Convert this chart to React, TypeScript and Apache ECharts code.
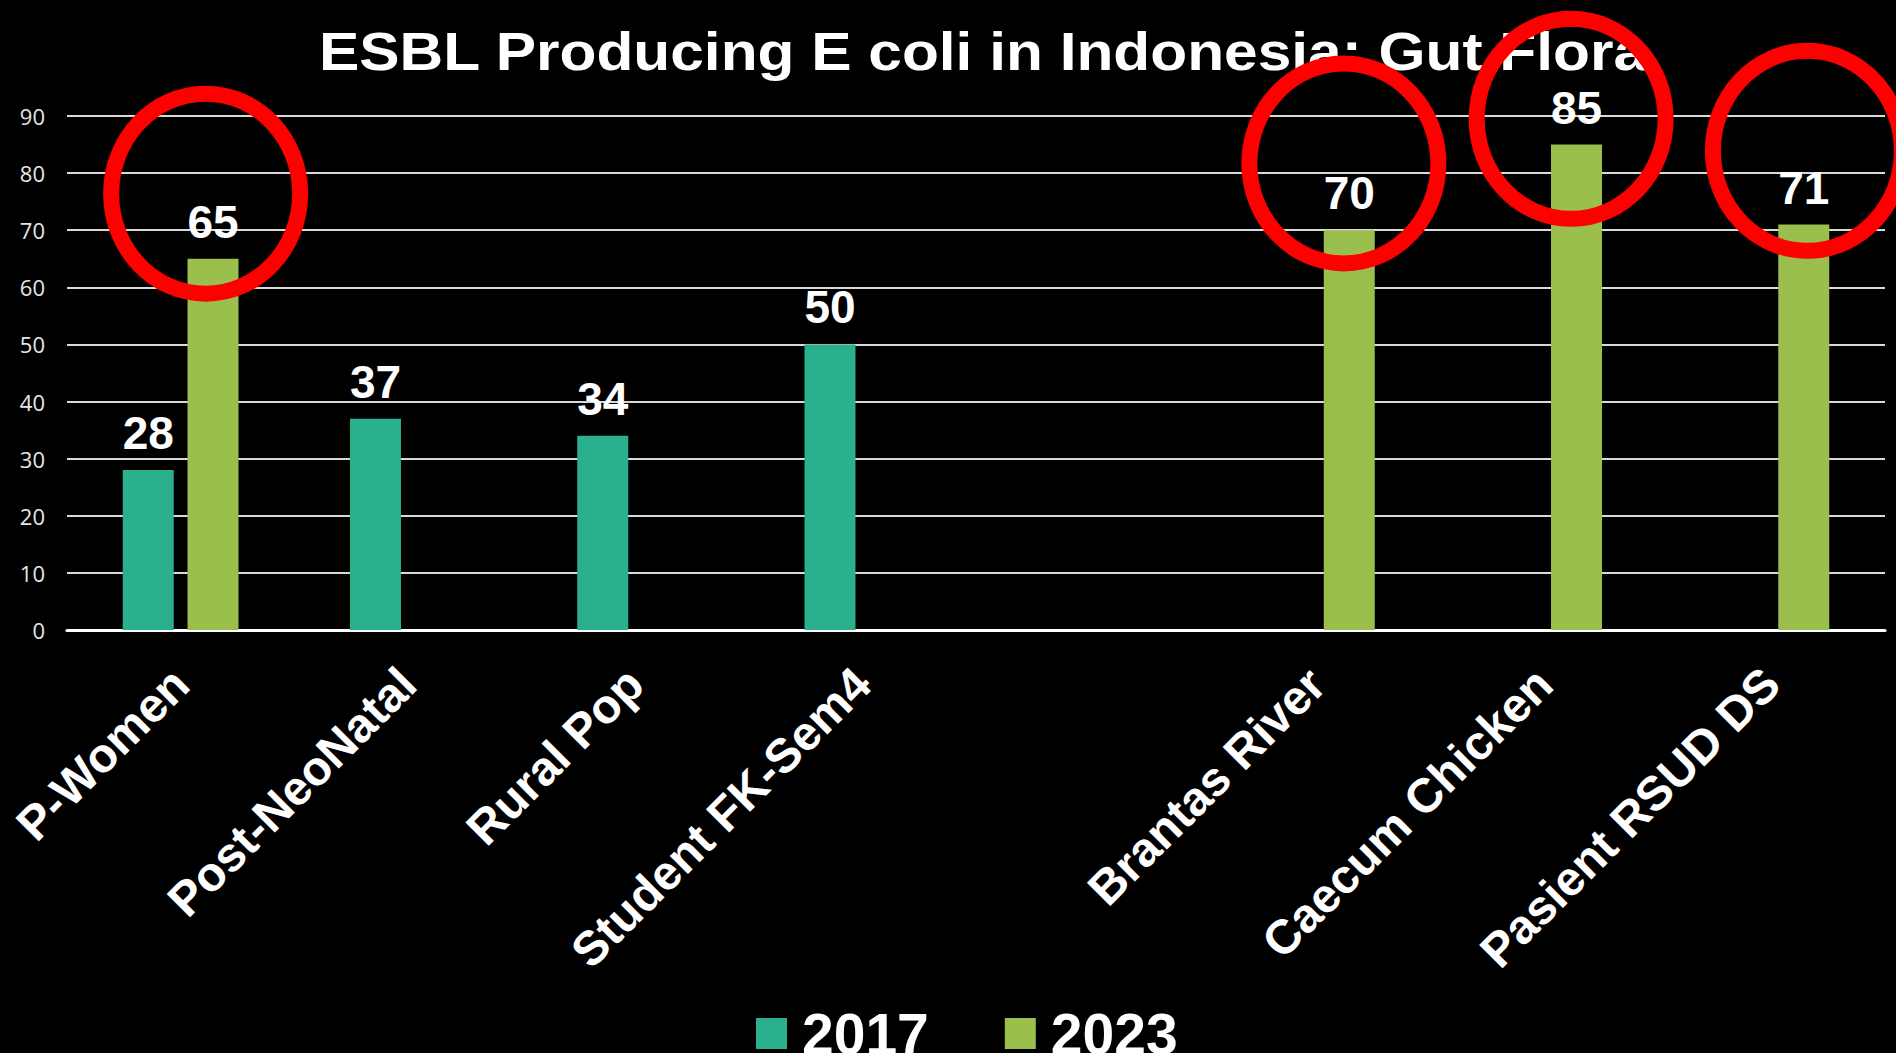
import React, { useEffect, useRef } from "react";
import * as echarts from "echarts";

const chartTitle = "ESBL Producing E coli in Indonesia: Gut Flora";
const categories = [
  "P-Women",
  "Post-NeoNatal",
  "Rural Pop",
  "Student FK-Sem4",
  "",
  "Brantas River",
  "Caecum Chicken",
  "Pasient RSUD DS",
];
const seriesNames = ["2017", "2023"];
const values2017 = [28, 37, 34, 50, null, null, null, null];
const values2023 = [65, null, null, null, null, 70, 85, 71];
const yTicks = { min: 0, max: 90, interval: 10 };

// red highlight rings: anchored at [category, value], shifted in px from category centre
const ringCategories = ["P-Women", "Brantas River", "Caecum Chicken", "Pasient RSUD DS"];
const ringValues = [76.4, 81.7, 89.5, 83.9];
const ringShift = [25, 27, 27, 36];

const COLORS = ["#2AB08D", "#9BBF4C"];
const BOLD = "'Liberation Sans', Arial, Helvetica, sans-serif";

export default function App() {
  const ref = useRef<HTMLDivElement>(null);

  useEffect(() => {
    if (!ref.current) return;
    const chart = echarts.init(ref.current, null, { renderer: "svg" });
    const labelStyle = {
      show: true,
      position: "top",
      distance: 14,
      color: "#ffffff",
      fontFamily: BOLD,
      fontWeight: "bold",
      fontSize: 46,
    };
    chart.setOption({
      animation: false,
      backgroundColor: "#000000",
      grid: { left: 67, right: 11, top: 116, bottom: 423, containLabel: false },
      legend: {
        data: seriesNames,
        left: 756,
        top: 1005,
        padding: 0,
        itemWidth: 31,
        itemHeight: 31,
        itemGap: 76,
        icon: "rect",
        textStyle: {
          color: "#ffffff",
          fontFamily: BOLD,
          fontWeight: "bold",
          fontSize: 57,
          padding: [0, 0, 0, 10],
        },
      },
      xAxis: {
        type: "category",
        data: categories,
        axisLine: { show: true, lineStyle: { color: "#ffffff", width: 3 } },
        axisTick: { show: false },
        axisLabel: {
          interval: 0,
          rotate: 45,
          margin: 46,
          color: "#ffffff",
          fontFamily: BOLD,
          fontWeight: "bold",
          fontSize: 48,
        },
      },
      yAxis: {
        type: "value",
        min: yTicks.min,
        max: yTicks.max,
        interval: yTicks.interval,
        axisLine: { show: false },
        axisTick: { show: false },
        splitLine: { lineStyle: { color: "#d9d9d9", width: 2 } },
        axisLabel: {
          margin: 22,
          color: "#e6e6e6",
          fontFamily: "'Open Sans', 'Noto Sans', sans-serif",
          fontSize: 22,
        },
      },
      series: [
        {
          name: seriesNames[0],
          type: "bar",
          data: values2017,
          barWidth: 51,
          barGap: "27%",
          itemStyle: { color: COLORS[0] },
          label: labelStyle,
        },
        {
          name: seriesNames[1],
          type: "bar",
          data: values2023,
          barWidth: 51,
          barGap: "27%",
          itemStyle: { color: COLORS[1] },
          label: labelStyle,
        },
      ],
    });

    const rings = ringCategories.map((cat, i) => {
      const p = chart.convertToPixel({ xAxisIndex: 0, yAxisIndex: 0 }, [cat, ringValues[i]]) as number[];
      return {
        type: "ellipse",
        z: 100,
        shape: { cx: p[0] + ringShift[i], cy: p[1], rx: 94.5, ry: 100 },
        style: { fill: "none", stroke: "#FF0000", lineWidth: 16 },
      };
    });

    chart.setOption({
      graphic: [
        {
          type: "text",
          z: 50,
          x: 983,
          y: 52,
          scaleX: 1.14,
          style: {
            text: chartTitle,
            fill: "#ffffff",
            font: `bold 53px ${BOLD}`,
            textAlign: "center",
            textVerticalAlign: "middle",
          },
        },
        ...rings,
      ],
    });

    return () => chart.dispose();
  }, []);

  return (
    <div
      ref={ref}
      style={{ position: "fixed", left: 0, top: 0, width: 1896, height: 1053, background: "#000" }}
    />
  );
}
